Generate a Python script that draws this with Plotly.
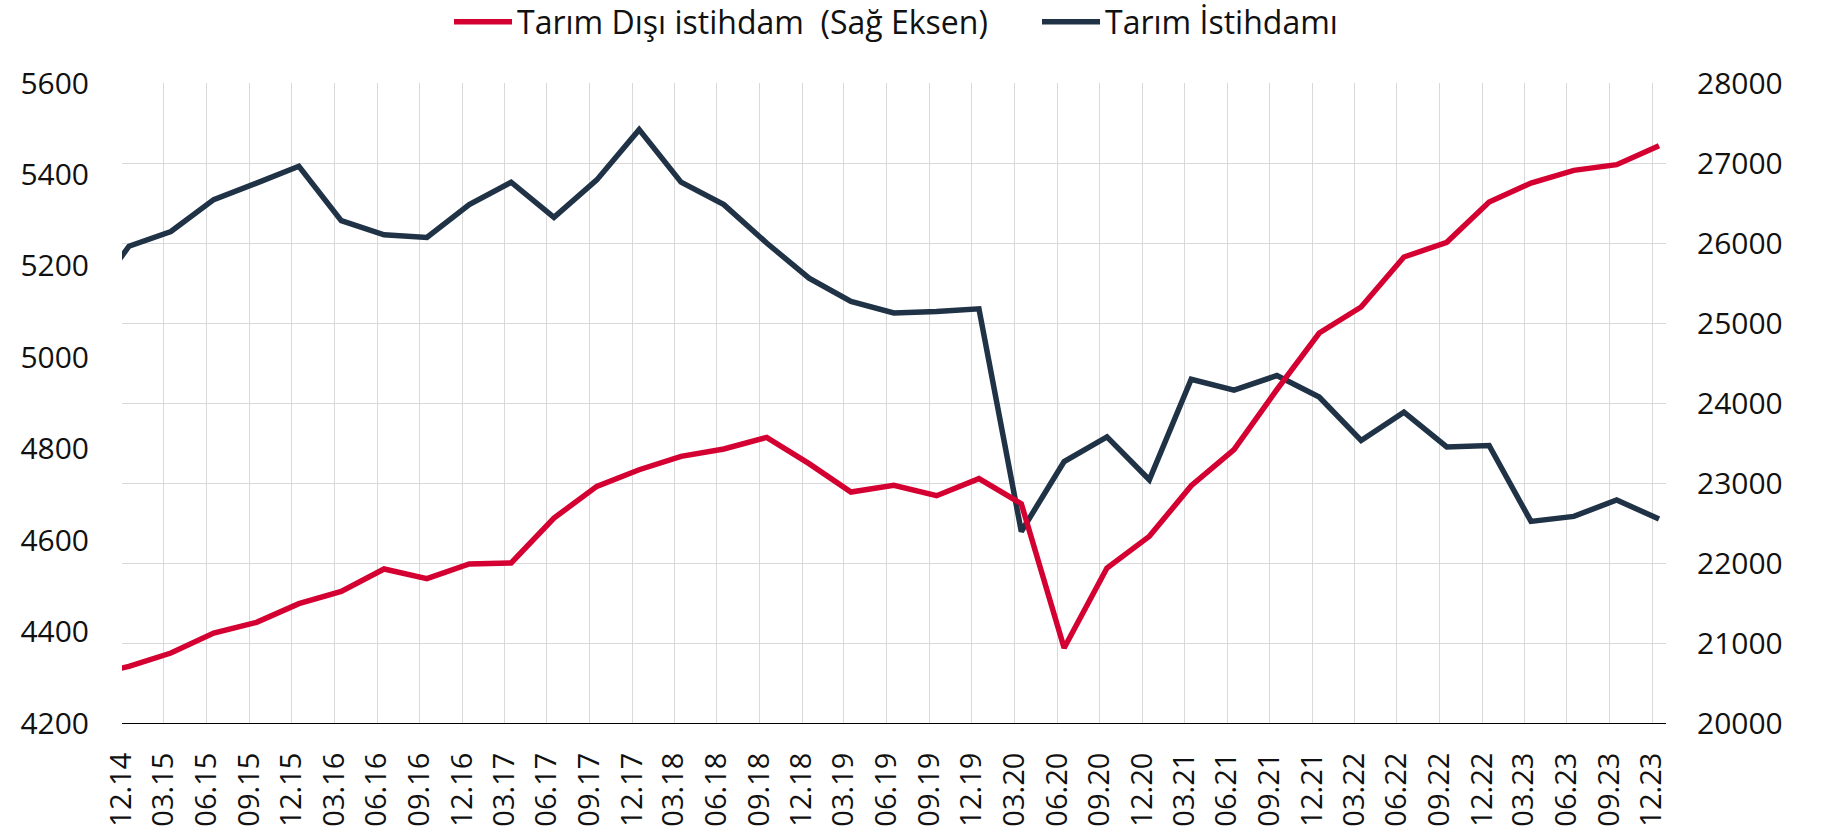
import pandas as pd
import plotly.graph_objects as go

# Quarter labels of the data points (first one is clipped off the left edge)
periods = ["09.14", "12.14", "03.15", "06.15", "09.15", "12.15", "03.16", "06.16", "09.16",
           "12.16", "03.17", "06.17", "09.17", "12.17", "03.18", "06.18", "09.18", "12.18",
           "03.19", "06.19", "09.19", "12.19", "03.20", "06.20", "09.20", "12.20", "03.21",
           "06.21", "09.21", "12.21", "03.22", "06.22", "09.22", "12.22", "03.23", "06.23",
           "09.23", "12.23"]

# Tarım Dışı istihdam (right axis), thousand persons
non_agri = [20584, 20708, 20875, 21125, 21258, 21492, 21645, 21925, 21804,
            21988, 22000, 22562, 22958, 23166, 23333, 23425, 23570, 23242,
            22887, 22970, 22841, 23054, 22741, 20937, 21937, 22333, 22966,
            23416, 24166, 24875, 25200, 25825, 26008, 26512, 26750, 26908,
            26979, 27216]

# Tarım İstihdamı (left axis), thousand persons
agri = [5115, 5243, 5275, 5345, 5381, 5418, 5299, 5268, 5262,
        5334, 5383, 5306, 5388, 5498, 5383, 5334, 5250, 5173,
        5122, 5097, 5100, 5106, 4619, 4772, 4826, 4732, 4952,
        4928, 4960, 4913, 4818, 4880, 4804, 4807, 4641, 4652,
        4688, 4646]

# x tick labels
tick_labels = periods[1:]

name_non_agri = "Tarım Dışı istihdam  (Sağ Eksen)"
name_agri = "Tarım \u0130stihdamı"

RED = "#D50032"
NAVY = "#1F3246"
FONT = "Open Sans"
TXT = "#111111"

W, H = 1844, 832

dates = pd.to_datetime(periods, format="%m.%y") + pd.Timedelta(days=15)
tick_dates = pd.to_datetime(tick_labels, format="%m.%y")

fig = go.Figure()
fig.add_trace(go.Scatter(
    x=dates, y=agri, name=name_agri, mode="lines",
    line=dict(color=NAVY, width=5.5), yaxis="y", legendrank=2,
))
fig.add_trace(go.Scatter(
    x=dates, y=non_agri, name=name_non_agri, mode="lines",
    line=dict(color=RED, width=5.5), yaxis="y2", legendrank=1, legendwidth=515,
))

fig.update_layout(
    width=W, height=H,
    margin=dict(l=122, r=W - 122 - 1544, t=83, b=H - 83 - 640, autoexpand=False),
    paper_bgcolor="white", plot_bgcolor="white",
    font=dict(family=FONT, size=30, color=TXT),
    showlegend=True,
    legend=dict(
        orientation="h", xref="container", yref="paper",
        x=449 / W, xanchor="left", y=1 + (83 - 22) / 640, yanchor="middle",
        itemwidth=58,
        font=dict(family=FONT, size=32, color=TXT),
        bgcolor="rgba(0,0,0,0)", traceorder="normal",
    ),
    xaxis=dict(
        type="date",
        range=["2014-12-01", "2023-12-31"],
        tickmode="array", tickvals=tick_dates, ticktext=tick_labels,
        tickangle=-90, tickfont=dict(family=FONT, size=29, color=TXT),
        showgrid=True, gridcolor="#D9D9D9", gridwidth=1.3,
        showline=True, linecolor="#000000", linewidth=1.2,
        ticks="", zeroline=False,
        ticklabelstandoff=17,
    ),
    yaxis=dict(
        range=[4200, 5600], tickmode="linear", tick0=4200, dtick=200,
        showgrid=False, zeroline=False, showline=False, ticks="",
        tickformat="d",
        tickfont=dict(family=FONT, size=30, color=TXT),
        ticklabelstandoff=32,
    ),
    yaxis2=dict(
        range=[20000, 28000], tickmode="linear", tick0=20000, dtick=1000,
        overlaying="y", side="right", tickformat="d",
        showgrid=True, gridcolor="#D9D9D9", gridwidth=1.3,
        zeroline=False, showline=False, ticks="",
        tickfont=dict(family=FONT, size=30, color=TXT),
        ticklabelstandoff=30,
    ),
)

fig.write_html(
    "out.html",
    config={"displayModeBar": False},
    post_script="document.body.style.margin='0';document.body.style.overflow='hidden';",
)
